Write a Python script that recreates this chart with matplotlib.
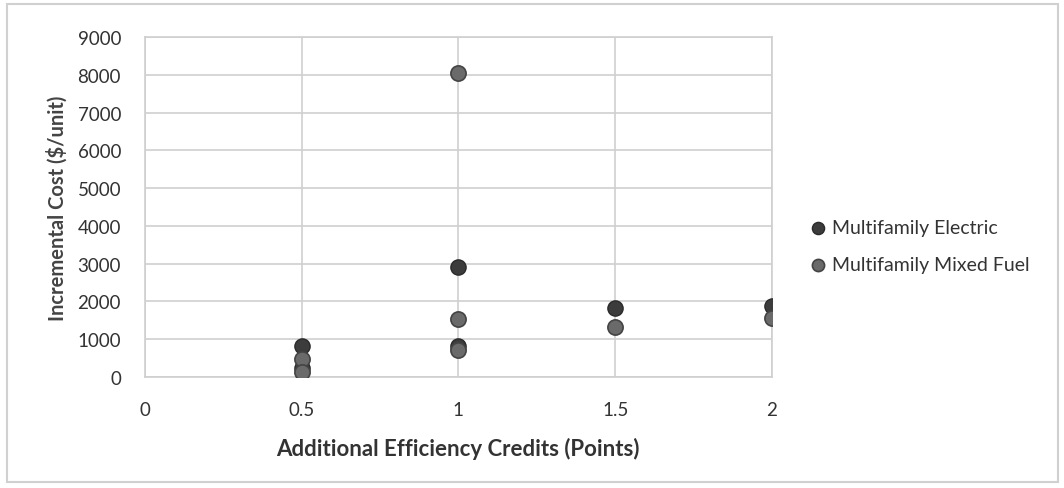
import matplotlib
matplotlib.use("Agg")
import matplotlib.pyplot as plt
from matplotlib.patches import Rectangle

# points
elec_x = [0.5, 0.5, 1, 1, 1.5, 2]
elec_y = [820, 250, 830, 2920, 1840, 1870]
mixed_x = [0.5, 0.5, 1, 1, 1, 1.5, 2]
mixed_y = [480, 120, 8050, 1530, 720, 1330, 1550]

x_ticks = [0, 0.5, 1, 1.5, 2]
x_labels = ["0", "0.5", "1", "1.5", "2"]
y_ticks = list(range(0, 9001, 1000))

plt.rcParams["font.family"] = ["Lato", "DejaVu Sans"]

fig = plt.figure(figsize=(10.64, 4.89), dpi=100)
ax = fig.add_axes([0.136, 0.227, 0.5896, 0.695])

ax.scatter(elec_x, elec_y, s=120, color="#3c3c3c", edgecolor="#2a2a2a",
           linewidth=1, zorder=3, label="Multifamily Electric")
ax.scatter(mixed_x, mixed_y, s=120, color="#6a6a6a", edgecolor="#444444",
           linewidth=1.2, zorder=3, label="Multifamily Mixed Fuel")

ax.set_xlim(0, 2)
ax.set_ylim(0, 9000)
ax.set_xticks(x_ticks)
ax.set_xticklabels(x_labels)
ax.set_yticks(y_ticks)
ax.grid(True, color="#cfcfcf", linewidth=1.2)
ax.set_axisbelow(True)
for s in ax.spines.values():
    s.set_color("#cfcfcf")
    s.set_linewidth(1.2)
ax.tick_params(axis="x", length=0, labelsize=13.5, colors="#333333", pad=17)
ax.tick_params(axis="y", length=0, labelsize=13.5, colors="#333333", pad=17)

ax.set_xlabel("Additional Efficiency Credits (Points)", fontsize=16,
              fontweight="bold", color="#333333", labelpad=14)
ax.set_ylabel("Incremental Cost ($/unit)", fontsize=14.5, fontweight="bold",
              color="#444444", labelpad=7)

ax.legend(loc="center left", bbox_to_anchor=(1.015, 0.385), frameon=False,
          fontsize=14, handletextpad=-0.3, labelspacing=1.05, markerscale=0.8,
          labelcolor="#333333")

# outer chart frame
fig.patches.append(Rectangle((0.007, 0.012), 0.987, 0.978, transform=fig.transFigure,
                             fill=False, edgecolor="#d0d0d0", linewidth=1.5))

fig.savefig("out.png", dpi=100)
